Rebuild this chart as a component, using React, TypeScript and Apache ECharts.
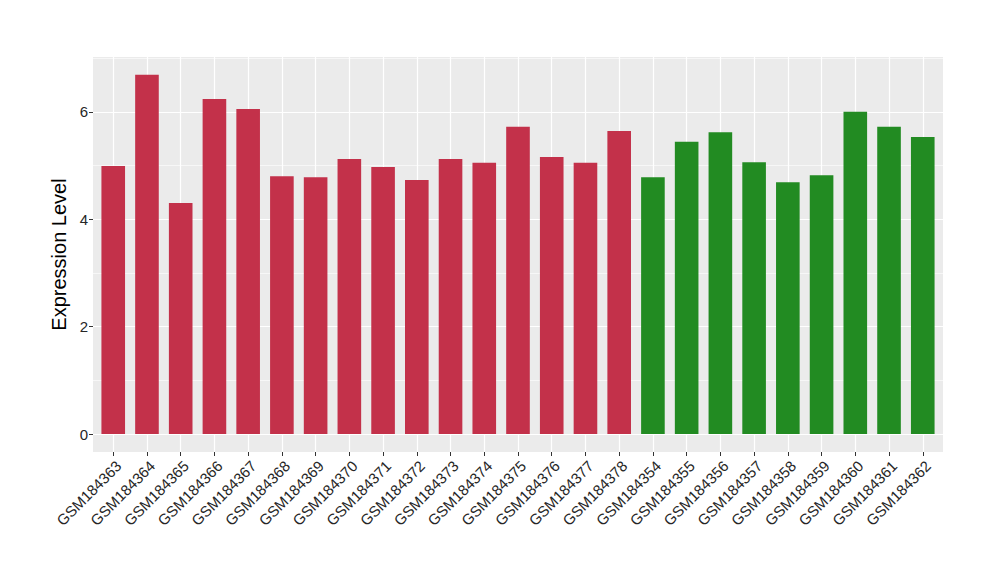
import React, { useEffect, useRef } from "react";
import * as echarts from "echarts";

const samples = [
  "GSM184363", "GSM184364", "GSM184365", "GSM184366", "GSM184367", "GSM184368",
  "GSM184369", "GSM184370", "GSM184371", "GSM184372", "GSM184373", "GSM184374",
  "GSM184375", "GSM184376", "GSM184377", "GSM184378", "GSM184354", "GSM184355",
  "GSM184356", "GSM184357", "GSM184358", "GSM184359", "GSM184360", "GSM184361",
  "GSM184362",
];
const values = [
  4.99, 6.69, 4.30, 6.24, 6.05, 4.80, 4.78, 5.12, 4.97, 4.73, 5.12, 5.05,
  5.72, 5.16, 5.05, 5.64, 4.78, 5.44, 5.62, 5.06, 4.69, 4.82, 6.00, 5.72,
  5.53,
];
const groups = [
  "A", "A", "A", "A", "A", "A", "A", "A", "A", "A", "A", "A",
  "A", "A", "A", "A", "B", "B", "B", "B", "B", "B", "B", "B", "B",
];
const groupColors: Record<string, string> = { A: "#C3314A", B: "#228B22" };
const yMajorTicks = [0, 2, 4, 6];
const yMinorTicks = [1, 3, 5, 7];
const yMin = -0.335;
const yMax = 7.02;
const xPad = 0.6;

const FONT = "Liberation Sans, Arial, Helvetica, sans-serif";

export default function App() {
  const ref = useRef<HTMLDivElement>(null);
  useEffect(() => {
    if (!ref.current) return;
    const chart = echarts.init(ref.current, undefined, { renderer: "svg" });
    const xPositions = samples.map((_, i) => i);
    const gridMarks = [
      ...xPositions.map((x) => ({ xAxis: x, lineStyle: { width: 1.2, color: "#FFFFFF", type: "solid" } })),
      ...yMajorTicks.map((v) => ({ yAxis: v, lineStyle: { width: 1.2, color: "#FFFFFF", type: "solid" } })),
      ...yMinorTicks.map((v) => ({ yAxis: v, lineStyle: { width: 0.6, color: "#FFFFFF", type: "solid" } })),
    ];
    chart.setOption({
      animation: false,
      grid: {
        left: 93,
        right: 57,
        top: 57,
        bottom: 128,
        show: true,
        backgroundColor: "#EBEBEB",
        borderWidth: 0,
      },
      xAxis: {
        type: "value",
        min: -xPad,
        max: samples.length - 1 + xPad,
        axisLine: { show: true, onZero: false, lineStyle: { color: "rgba(0,0,0,0)", width: 0 } },
        axisTick: {
          show: true,
          length: 4,
          customValues: xPositions,
          lineStyle: { color: "#333333", width: 1 },
        },
        axisLabel: {
          customValues: xPositions,
          formatter: (v: number) => samples[Math.round(v)] ?? "",
          rotate: 45,
          margin: 6,
          fontSize: 15,
          color: "#262626",
          fontFamily: FONT,
          verticalAlign: "top",
        },
        splitLine: { show: false },
      },
      yAxis: {
        type: "value",
        min: yMin,
        max: yMax,
        name: "Expression Level",
        nameLocation: "middle",
        nameGap: 14,
        nameTextStyle: { fontSize: 20, color: "#000000", fontFamily: FONT },
        axisLine: { show: true, onZero: false, lineStyle: { color: "rgba(0,0,0,0)", width: 0 } },
        axisTick: {
          show: true,
          length: 4,
          customValues: yMajorTicks,
          lineStyle: { color: "#333333", width: 1 },
        },
        axisLabel: {
          customValues: yMajorTicks,
          margin: 5,
          fontSize: 15,
          color: "#262626",
          fontFamily: FONT,
        },
        splitLine: { show: false },
      },
      series: [
        {
          type: "line",
          data: [],
          showSymbol: false,
          silent: true,
          z: 1,
          markLine: {
            silent: true,
            z: 1,
            symbol: ["none", "none"],
            label: { show: false },
            animation: false,
            lineStyle: { type: "solid" },
            data: gridMarks,
          },
        },
        {
          type: "bar",
          z: 10,
          barWidth: "70%",
          data: values.map((v, i) => ({
            value: [i, v],
            itemStyle: { color: groupColors[groups[i]] },
          })),
        },
      ],
    });
    return () => chart.dispose();
  }, []);
  return (
    <div
      ref={ref}
      style={{ position: "fixed", left: 0, top: 0, width: 1000, height: 580, background: "#FFFFFF" }}
    />
  );
}
